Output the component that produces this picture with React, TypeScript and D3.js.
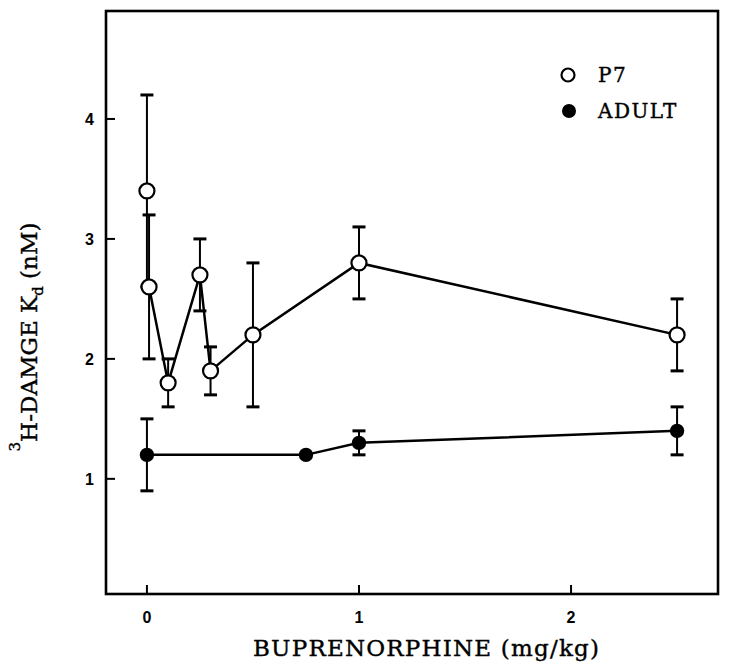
import React from "react";
import * as d3 from "d3";

// P7 animals
const p7Dose = [0, 0.01, 0.1, 0.25, 0.3, 0.5, 1, 2.5];
const p7Kd = [3.4, 2.6, 1.8, 2.7, 1.9, 2.2, 2.8, 2.2];
const p7Lo = [2.6, 2.0, 1.6, 2.4, 1.7, 1.6, 2.5, 1.9];
const p7Hi = [4.2, 3.2, 2.0, 3.0, 2.1, 2.8, 3.1, 2.5];

// adults
const adultDose = [0, 0.75, 1, 2.5];
const adultKd = [1.2, 1.2, 1.3, 1.4];
const adultLo = [0.9, null, 1.2, 1.2];
const adultHi = [1.5, null, 1.4, 1.6];

const xTicks = [0, 1, 2];
const yTicks = [1, 2, 3, 4];

const width = 729;
const height = 671;
const margin = { top: 11, right: 11, bottom: 77, left: 106 };

const serif = "'DejaVu Serif', serif";
const sans = "'Liberation Sans', Arial, sans-serif";

type Pt = { x: number; y: number; lo: number | null; hi: number | null };

function toPoints(xs: number[], ys: number[], lo: (number | null)[], hi: (number | null)[]): Pt[] {
  return xs.map((x, i) => ({ x, y: ys[i], lo: lo[i], hi: hi[i] }));
}

export default function App() {
  const x = d3
    .scaleLinear()
    .domain([-0.193, 2.693])
    .range([margin.left, width - margin.right]);
  const y = d3
    .scaleLinear()
    .domain([0.04, 4.9])
    .range([height - margin.bottom, margin.top]);

  const p7 = toPoints(p7Dose, p7Kd, p7Lo, p7Hi);
  const adult = toPoints(adultDose, adultKd, adultLo, adultHi);

  const line = d3
    .line<Pt>()
    .x((d) => x(d.x))
    .y((d) => y(d.y));

  const capW = 6.5;
  const errBars = (pts: Pt[], key: string) =>
    pts
      .filter((d) => d.lo != null && d.hi != null)
      .map((d, i) => (
        <g key={key + i} stroke="black" strokeWidth={2}>
          <line x1={x(d.x)} x2={x(d.x)} y1={y(d.lo as number)} y2={y(d.hi as number)} />
          <line x1={x(d.x) - capW} x2={x(d.x) + capW} y1={y(d.hi as number)} y2={y(d.hi as number)} strokeWidth={3} />
          <line x1={x(d.x) - capW} x2={x(d.x) + capW} y1={y(d.lo as number)} y2={y(d.lo as number)} strokeWidth={3} />
        </g>
      ));

  const x0 = margin.left;
  const x1 = width - margin.right;
  const y0 = height - margin.bottom;
  const y1 = margin.top;

  const heavy = { stroke: "black", strokeWidth: 0.4 };

  return (
    <svg
      width={width}
      height={height}
      style={{ position: "absolute", left: 0, top: 0, background: "white" }}
    >
      <rect x={0} y={0} width={width} height={height} fill="white" />

      {/* frame */}
      <rect
        x={x0}
        y={y1}
        width={x1 - x0}
        height={y0 - y1}
        fill="none"
        stroke="black"
        strokeWidth={2.6}
      />

      {/* x ticks */}
      {xTicks.map((t) => (
        <g key={"xt" + t}>
          <line x1={x(t)} x2={x(t)} y1={y0} y2={y0 - 9} stroke="black" strokeWidth={2} />
          <text
            x={x(t)}
            y={623}
            textAnchor="middle"
            fontFamily={sans}
            fontWeight="bold"
            fontSize={16}
          >
            {t}
          </text>
        </g>
      ))}

      {/* y ticks */}
      {yTicks.map((t) => (
        <g key={"yt" + t}>
          <line x1={x0} x2={x0 + 9} y1={y(t)} y2={y(t)} stroke="black" strokeWidth={2} />
          <text
            x={94}
            y={y(t)}
            dy="0.36em"
            textAnchor="end"
            fontFamily={sans}
            fontWeight="bold"
            fontSize={16}
          >
            {t}
          </text>
        </g>
      ))}

      {/* error bars */}
      {errBars(p7, "p7e")}
      {errBars(adult, "ade")}

      {/* lines */}
      <path d={line(p7.slice(1)) || ""} fill="none" stroke="black" strokeWidth={2.5} />
      <path d={line(adult) || ""} fill="none" stroke="black" strokeWidth={2.5} />

      {/* markers */}
      {p7.map((d, i) => (
        <circle key={"p" + i} cx={x(d.x)} cy={y(d.y)} r={7.5} fill="white" stroke="black" strokeWidth={2.2} />
      ))}
      {adult.map((d, i) => (
        <circle key={"a" + i} cx={x(d.x)} cy={y(d.y)} r={7.2} fill="black" />
      ))}

      {/* legend */}
      <circle cx={568} cy={75} r={6.5} fill="white" stroke="black" strokeWidth={2.2} />
      <text x={598} y={82} fontFamily={serif} fontSize={20} letterSpacing={1.5} {...heavy}>
        P7
      </text>
      <circle cx={569} cy={111} r={7} fill="black" />
      <text x={598} y={118} fontFamily={serif} fontSize={20} letterSpacing={1.5} {...heavy}>
        ADULT
      </text>

      {/* axis titles */}
      <text
        x={426}
        y={656}
        textAnchor="middle"
        fontFamily={serif}
        fontSize={23}
        textLength={346}
        lengthAdjust="spacing"
        {...heavy}
      >
        BUPRENORPHINE (mg/kg)
      </text>

      <text
        transform="translate(37,337) rotate(-90)"
        textAnchor="middle"
        fontFamily={serif}
        fontSize={23}
        {...heavy}
      >
        <tspan fontSize={15} dy={-17}>3</tspan>
        <tspan dy={17}>H-DAMGE K</tspan>
        <tspan fontSize={15} dy={6}>d</tspan>
        <tspan dy={-6}> (nM)</tspan>
      </text>
    </svg>
  );
}
